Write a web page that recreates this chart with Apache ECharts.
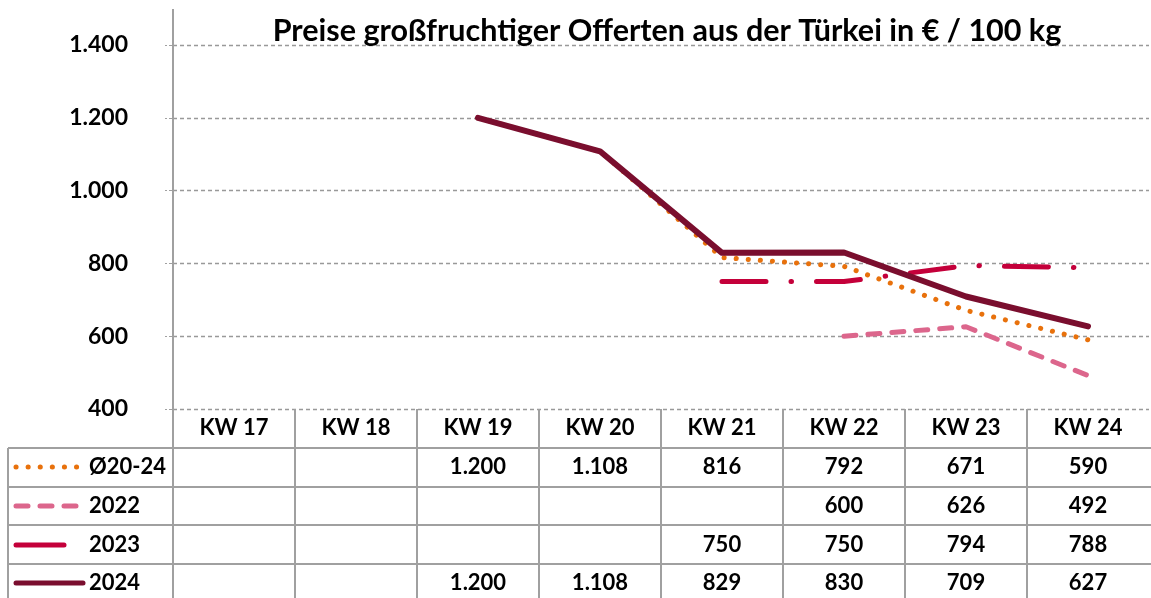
<!DOCTYPE html>
<html><head><meta charset="utf-8">
<script src="https://cdn.jsdelivr.net/npm/echarts@6/dist/echarts.min.js"></script>
<style>html,body{margin:0;padding:0;background:#fff}#c{width:1151px;height:598px}</style>
</head><body><div id="c"></div>
<script>
const title = 'Preise großfruchtiger Offerten aus der Türkei in € / 100 kg';
const categories = ['KW 17','KW 18','KW 19','KW 20','KW 21','KW 22','KW 23','KW 24'];
const seriesNames = ['Ø20-24','2022','2023','2024'];
const avg2024 = [null,null,1200,1108,816,792,671,590];
const y2022 = [null,null,null,null,null,600,626,492];
const y2023 = [null,null,null,null,750,750,794,788];
const y2024 = [null,null,1200,1108,829,830,709,627];
const yTicks = [400,600,800,1000,1200,1400];

const FONT = 'Lato';
const fmt = v => v == null ? '' : v.toLocaleString('de-DE');

const colors = {avg:'#e8710c', y22:'#dc668c', y23:'#c4003a', y24:'#7a0e2e'};
const styles = [
  {color:colors.avg, width:5, type:[0.1,12], cap:'round'},
  {color:colors.y22, width:5, type:[12,12], cap:'round'},
  {color:colors.y23, width:5, type:[44,25,0.5,25], cap:'round'},
  {color:colors.y24, width:6, type:'solid', cap:'round'}
];
const dataSets = [avg2024, y2022, y2023, y2024];

const L = 173, R = 1149, TOP = 45, BOT = 409;
const colW = (R - L) / categories.length;
const rowLines = [448, 487, 525, 564];
const rowCenters = [467, 506, 545, 583];
const headerCenter = 428;
const gridC = '#a0a0a0';
const TFONT = 'bold 22px ' + FONT;

const g = [];
g.push({type:'line', shape:{x1:L,y1:9,x2:L,y2:598}, style:{stroke:gridC,lineWidth:2}, z:50});
for (let i=1;i<categories.length;i++){
  const x = Math.round(L + i*colW);
  g.push({type:'line', shape:{x1:x,y1:BOT,x2:x,y2:598}, style:{stroke:gridC,lineWidth:2}, z:50});
}
g.push({type:'line', shape:{x1:8,y1:448,x2:8,y2:598}, style:{stroke:gridC,lineWidth:2}, z:50});
rowLines.forEach(y=>g.push({type:'line', shape:{x1:8,y1:y,x2:R+2,y2:y}, style:{stroke:gridC,lineWidth:2}, z:50}));
categories.forEach((c,i)=>g.push({type:'text', x:L+(i+0.5)*colW, y:headerCenter, style:{text:c, font:TFONT, fill:'#000', align:'center', verticalAlign:'middle'}, z:60}));
dataSets.forEach((arr,r)=>{
  const s = styles[r];
  const x2 = r===2 ? 64 : 83;
  g.push({type:'line', shape:{x1:16,y1:rowCenters[r],x2:x2,y2:rowCenters[r]}, style:{stroke:s.color,lineWidth:5,lineDash: (r===2||s.type==='solid')?null:s.type,lineCap:'round'}, z:60});
  g.push({type:'text', x:89, y:rowCenters[r], style:{text:seriesNames[r], font:TFONT, fill:'#000', align:'left', verticalAlign:'middle'}, z:60});
  arr.forEach((v,i)=>{
    if (v==null) return;
    g.push({type:'text', x:L+(i+0.5)*colW, y:rowCenters[r], style:{text:fmt(v), font:TFONT, fill:'#000', align:'center', verticalAlign:'middle'}, z:60});
  });
});

const order = [2,1,0,3];
const series = order.map((r,k)=>({
  name: seriesNames[r], type:'line', data: dataSets[r], showSymbol:false, symbol:'none',
  z: 2+k, connectNulls:false, animation:false,
  lineStyle:{color:styles[r].color, width:styles[r].width, type:styles[r].type, cap:styles[r].cap, join:'round'}
}));

const chart = echarts.init(document.getElementById('c'), null, {renderer:'canvas'});
chart.setOption({
  animation:false,
  backgroundColor:'#fff',
  title:{text:title, left:662, top:11, textAlign:'center', textStyle:{fontFamily:FONT, fontWeight:'bold', fontSize:30.5, color:'#000'}},
  grid:{left:L, right:1151-R, top:TOP, bottom:598-BOT, containLabel:false},
  xAxis:{type:'category', data:categories, boundaryGap:true,
    axisLine:{show:false}, axisTick:{show:false}, axisLabel:{show:false}, splitLine:{show:false}},
  yAxis:{type:'value', min:yTicks[0], max:yTicks[yTicks.length-1], interval:200,
    axisLine:{show:false},
    axisTick:{show:true, inside:false, length:8, lineStyle:{color:gridC, type:'dashed', width:1}},
    axisLabel:{margin:45, fontFamily:FONT, fontWeight:'bold', fontSize:23, color:'#000', formatter:v=>fmt(v)},
    splitLine:{show:true, lineStyle:{color:'#999', type:[4,3], width:1.3}}},
  series: series,
  graphic: g
});
</script></body></html>
